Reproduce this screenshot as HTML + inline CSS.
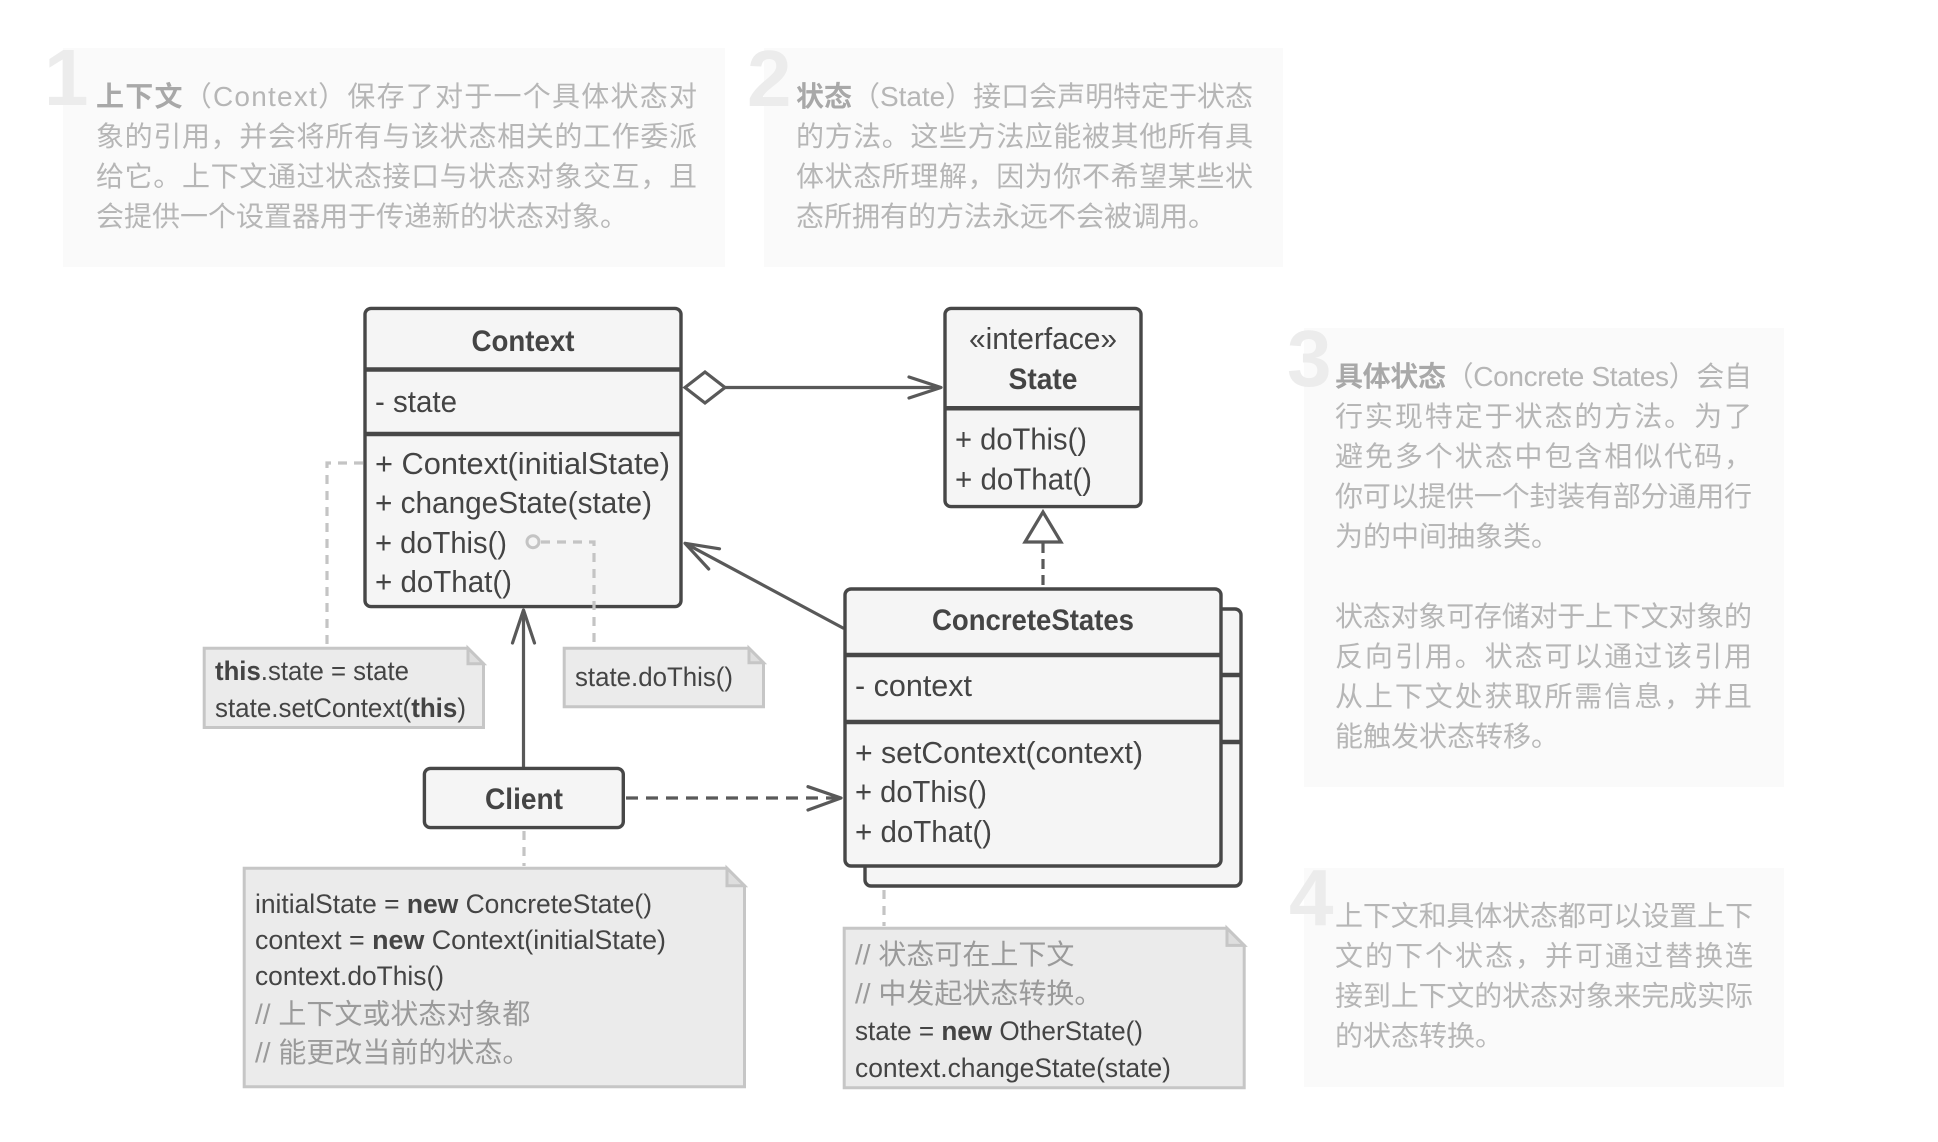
<!DOCTYPE html>
<html><head><meta charset="utf-8">
<style>
html,body{margin:0;padding:0;background:#fff;}
svg{display:block;}
text{font-family:"Liberation Sans","Noto Sans CJK SC",sans-serif;}
.p{font-size:28px;fill:#b6b6b6;}
.pb{font-weight:bold;fill:#a8a8a8;}
.dg{font-size:80px;font-weight:bold;fill:#ececec;}
.u{font-size:31px;fill:#444;}
.ub{font-size:30px;font-weight:bold;fill:#444;}
.n{font-size:27px;fill:#444;}
.nb{font-weight:bold;}
.nc{font-size:28px;fill:#9a9a9a;}
</style></head><body>
<svg width="1938" height="1142" viewBox="0 0 1938 1142" xmlns="http://www.w3.org/2000/svg">
<!-- Panels -->
<rect x="63" y="48" width="662" height="219" fill="#fafafa"/>
<rect x="764" y="48" width="519" height="219" fill="#fafafa"/>
<rect x="1304" y="328" width="480" height="459" fill="#fafafa"/>
<rect x="1304" y="868" width="480" height="219" fill="#fafafa"/>
<text class="dg" x="44" y="105">1</text>
<text class="dg" x="747" y="106">2</text>
<text class="dg" x="1287" y="386">3</text>
<text class="dg" x="1289" y="925">4</text>

<text class="p" x="96" y="106" textLength="601" lengthAdjust="spacing"><tspan class="pb">上下文</tspan>（Context）保存了对于一个具体状态对</text>
<text class="p" x="96" y="146" textLength="601" lengthAdjust="spacing">象的引用，并会将所有与该状态相关的工作委派</text>
<text class="p" x="96" y="186" textLength="601" lengthAdjust="spacing">给它。上下文通过状态接口与状态对象交互，且</text>
<text class="p" x="96" y="226">会提供一个设置器用于传递新的状态对象。</text>

<text class="p" x="796" y="106" textLength="457" lengthAdjust="spacing"><tspan class="pb">状态</tspan>（State）接口会声明特定于状态</text>
<text class="p" x="796" y="146" textLength="457" lengthAdjust="spacing">的方法。这些方法应能被其他所有具</text>
<text class="p" x="796" y="186" textLength="457" lengthAdjust="spacing">体状态所理解，因为你不希望某些状</text>
<text class="p" x="796" y="226">态所拥有的方法永远不会被调用。</text>

<text class="p" x="1335" y="386" textLength="417" lengthAdjust="spacing"><tspan class="pb">具体状态</tspan>（Concrete States）会自</text>
<text class="p" x="1335" y="426" textLength="417" lengthAdjust="spacing">行实现特定于状态的方法。为了</text>
<text class="p" x="1335" y="466" textLength="417" lengthAdjust="spacing">避免多个状态中包含相似代码，</text>
<text class="p" x="1335" y="506" textLength="417" lengthAdjust="spacing">你可以提供一个封装有部分通用行</text>
<text class="p" x="1335" y="546">为的中间抽象类。</text>
<text class="p" x="1335" y="626" textLength="417" lengthAdjust="spacing">状态对象可存储对于上下文对象的</text>
<text class="p" x="1335" y="666" textLength="417" lengthAdjust="spacing">反向引用。状态可以通过该引用</text>
<text class="p" x="1335" y="706" textLength="417" lengthAdjust="spacing">从上下文处获取所需信息，并且</text>
<text class="p" x="1335" y="746">能触发状态转移。</text>

<text class="p" x="1335" y="925.5" textLength="418" lengthAdjust="spacing">上下文和具体状态都可以设置上下</text>
<text class="p" x="1335" y="965.5" textLength="418" lengthAdjust="spacing">文的下个状态，并可通过替换连</text>
<text class="p" x="1335" y="1005.5" textLength="418" lengthAdjust="spacing">接到上下文的状态对象来完成实际</text>
<text class="p" x="1335" y="1045.5">的状态转换。</text>

<!-- Connectors (solid/dark) -->
<g stroke="#595959" stroke-width="3.2" fill="none" stroke-linecap="round" stroke-linejoin="round">
  <line x1="725" y1="387.5" x2="940" y2="387.5"/>
  <polyline points="909,377 941,387.5 909,398"/>
  <line x1="843" y1="628" x2="687" y2="544.3"/>
  <polyline points="719.5,548.8 685,543.3 708.7,569"/>
  <line x1="523.5" y1="767" x2="523.5" y2="612"/>
  <polyline points="512.5,643 523.5,610 534.5,643"/>
  <line x1="626" y1="798" x2="838" y2="798" stroke-dasharray="12 8" stroke-linecap="butt"/>
  <polyline points="808,786.7 841,798 808,810"/>
  <line x1="1043" y1="543" x2="1043" y2="587" stroke-dasharray="10 6" stroke-linecap="butt"/>
</g>
<polygon points="685,387.5 705,372 725,387.5 705,403" fill="#fff" stroke="#595959" stroke-width="3.2" stroke-linejoin="miter"/>
<polygon points="1043,512 1025,542 1061,542" fill="#fff" stroke="#595959" stroke-width="3.2" stroke-linejoin="miter"/>

<!-- Context -->
<g stroke="#474747" fill="#f5f5f5">
  <rect x="365" y="308.4" width="316" height="298.2" rx="6" stroke-width="3.4"/>
  <line x1="365" y1="369.5" x2="681" y2="369.5" stroke-width="4.5"/>
  <line x1="365" y1="434" x2="681" y2="434" stroke-width="4.5"/>
</g>
<text class="ub" x="471.5" y="351" textLength="103" lengthAdjust="spacingAndGlyphs">Context</text>
<text class="u" x="375" y="412" textLength="82" lengthAdjust="spacingAndGlyphs">- state</text>
<text class="u" x="375" y="474" textLength="295" lengthAdjust="spacingAndGlyphs">+ Context(initialState)</text>
<text class="u" x="375" y="513" textLength="277" lengthAdjust="spacingAndGlyphs">+ changeState(state)</text>
<text class="u" x="375" y="553" textLength="132" lengthAdjust="spacingAndGlyphs">+ doThis()</text>
<text class="u" x="375" y="592" textLength="137" lengthAdjust="spacingAndGlyphs">+ doThat()</text>

<!-- State -->
<g stroke="#474747" fill="#f5f5f5">
  <rect x="945" y="308.4" width="196" height="198.2" rx="6" stroke-width="3.4"/>
  <line x1="945" y1="408.3" x2="1141" y2="408.3" stroke-width="4.5"/>
</g>
<text class="u" x="969" y="349" textLength="148" lengthAdjust="spacingAndGlyphs">«interface»</text>
<text class="ub" x="1008.5" y="389" textLength="69" lengthAdjust="spacingAndGlyphs">State</text>
<text class="u" x="955" y="449.5" textLength="132" lengthAdjust="spacingAndGlyphs">+ doThis()</text>
<text class="u" x="955" y="489.5" textLength="137" lengthAdjust="spacingAndGlyphs">+ doThat()</text>

<!-- ConcreteStates -->
<g stroke="#474747" fill="#f5f5f5">
  <rect x="865" y="609" width="376" height="277" rx="6" stroke-width="3.4"/>
  <line x1="865" y1="675" x2="1241" y2="675" stroke-width="4.5"/>
  <line x1="865" y1="742" x2="1241" y2="742" stroke-width="4.5"/>
  <rect x="845" y="589" width="376" height="277" rx="6" stroke-width="3.4"/>
  <line x1="845" y1="655" x2="1221" y2="655" stroke-width="4.5"/>
  <line x1="845" y1="722" x2="1221" y2="722" stroke-width="4.5"/>
</g>
<text class="ub" x="932" y="630" textLength="202" lengthAdjust="spacingAndGlyphs">ConcreteStates</text>
<text class="u" x="855" y="696" textLength="117" lengthAdjust="spacingAndGlyphs">- context</text>
<text class="u" x="855" y="763" textLength="288" lengthAdjust="spacingAndGlyphs">+ setContext(context)</text>
<text class="u" x="855" y="802" textLength="132" lengthAdjust="spacingAndGlyphs">+ doThis()</text>
<text class="u" x="855" y="842" textLength="137" lengthAdjust="spacingAndGlyphs">+ doThat()</text>

<!-- Client -->
<rect x="424.4" y="768.4" width="198.9" height="59.2" rx="6" fill="#f5f5f5" stroke="#474747" stroke-width="3.4"/>
<text class="ub" x="485" y="809" textLength="78" lengthAdjust="spacingAndGlyphs">Client</text>

<!-- Grey dashed connectors -->
<g stroke="#c4c4c4" stroke-width="3.2" fill="none" stroke-dasharray="9 7">
  <polyline points="363,463 327,463 327,646"/>
  <polyline points="541,542 594,542 594,646"/>
  <line x1="524" y1="831" x2="524" y2="866"/>
  <line x1="884" y1="890" x2="884" y2="926"/>
</g>
<circle cx="533" cy="541.7" r="6" fill="#f5f5f5" stroke="#c4c4c4" stroke-width="3"/>

<!-- Notes -->
<g stroke="#c6c6c6" stroke-width="3" stroke-linejoin="miter">
  <path d="M204.2,648.2 H468 L483.5,663.7 V727.5 H204.2 Z" fill="#ebebeb"/>
  <path d="M468,648.2 V663.7 H483.5 Z" fill="#dedede"/>
  <path d="M564.2,648.2 H749 L763.5,662.7 V706.8 H564.2 Z" fill="#ebebeb"/>
  <path d="M749,648.2 V662.7 H763.5 Z" fill="#dedede"/>
  <path d="M244.2,868.2 H727 L744.5,885.7 V1086.8 H244.2 Z" fill="#ebebeb"/>
  <path d="M727,868.2 V885.7 H744.5 Z" fill="#dedede"/>
  <path d="M844.2,928.2 H1227 L1244.2,945.4 V1087.8 H844.2 Z" fill="#ebebeb"/>
  <path d="M1227,928.2 V945.4 H1244.2 Z" fill="#dedede"/>
</g>
<text class="n" x="215" y="680" textLength="194" lengthAdjust="spacingAndGlyphs"><tspan class="nb">this</tspan>.state = state</text>
<text class="n" x="215" y="717" textLength="251" lengthAdjust="spacingAndGlyphs">state.setContext(<tspan class="nb">this</tspan>)</text>
<text class="n" x="575" y="686" textLength="158" lengthAdjust="spacingAndGlyphs">state.doThis()</text>

<text class="n" x="255" y="913" textLength="397" lengthAdjust="spacingAndGlyphs">initialState = <tspan class="nb">new</tspan> ConcreteState()</text>
<text class="n" x="255" y="949" textLength="411" lengthAdjust="spacingAndGlyphs">context = <tspan class="nb">new</tspan> Context(initialState)</text>
<text class="n" x="255" y="985" textLength="189" lengthAdjust="spacingAndGlyphs">context.doThis()</text>
<text class="nc" x="255" y="1023.5">// 上下文或状态对象都</text>
<text class="nc" x="255" y="1062">// 能更改当前的状态。</text>

<text class="nc" x="855" y="964">// 状态可在上下文</text>
<text class="nc" x="855" y="1003">// 中发起状态转换。</text>
<text class="n" x="855" y="1040" textLength="288" lengthAdjust="spacingAndGlyphs">state = <tspan class="nb">new</tspan> OtherState()</text>
<text class="n" x="855" y="1077" textLength="316" lengthAdjust="spacingAndGlyphs">context.changeState(state)</text>
</svg>
</body></html>
